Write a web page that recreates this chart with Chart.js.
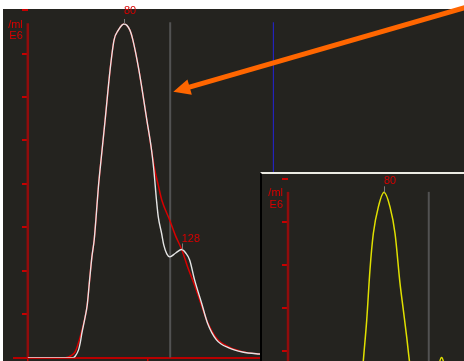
<!DOCTYPE html>
<html><head><meta charset="utf-8">
<script src="https://cdn.jsdelivr.net/npm/chart.js@4.4.1/dist/chart.umd.min.js"></script>
<style>
html,body{margin:0;padding:0;background:#fff;overflow:hidden;width:464px;height:361px;}
#main{position:absolute;left:0;top:0;display:block;}
#insetBox{position:absolute;left:260px;top:172px;width:204px;height:189px;box-sizing:border-box;border-top:2px solid #ecebe3;border-left:2px solid #000;background:#24231f;overflow:hidden;}
#inset{display:block;}
</style></head><body>
<canvas id="main" width="464" height="361"></canvas>
<div id="insetBox"><canvas id="inset" width="202" height="187"></canvas></div>
<script>
// ---- data (fL on x, count /ml E6 on y) ----
const whiteFL  = [0, 37.8, 39.5, 42.2, 43.6, 45.0, 47.7, 49.4, 51.4, 53.3, 55.2, 56.6, 58.7, 61.5, 64.3, 68.4, 71.7, 75.3, 80, 84.9, 87.4, 92.4, 99.0, 102.9, 104.8, 107.0, 108.5, 111.2, 113.1, 115.6, 118.1, 123.0, 128, 131.3, 134.6, 138.7, 144.5, 149.4, 156.9, 167.7, 178.4, 192.5, 220, 250];
const whiteVal = [0, 0, 0.04, 0.18, 0.34, 0.57, 0.94, 1.21, 1.79, 2.32, 2.71, 3.17, 3.93, 4.71, 5.47, 6.62, 7.31, 7.54, 7.68, 7.54, 7.31, 6.62, 5.47, 4.78, 4.32, 3.63, 3.24, 2.87, 2.59, 2.39, 2.32, 2.41, 2.49, 2.41, 2.25, 1.79, 1.26, 0.80, 0.41, 0.22, 0.13, 0.085, 0.04, 0.01];
const redFL  = [0, 31.2, 36.7, 39.5, 43.6, 47.7, 49.4, 51.4, 53.3, 55.2, 56.6, 58.7, 61.5, 64.3, 68.4, 71.7, 75.3, 80, 84.9, 87.4, 92.4, 99.0, 102.9, 105.6, 108.5, 111.4, 118.1, 122.8, 128, 133.0, 138.7, 144.5, 149.4, 156.9, 167.7, 178.4, 192.5, 220, 250];
const redVal = [0, 0, 0.06, 0.14, 0.48, 0.94, 1.21, 1.79, 2.32, 2.71, 3.17, 3.93, 4.71, 5.47, 6.62, 7.31, 7.54, 7.68, 7.54, 7.31, 6.62, 5.47, 4.78, 4.32, 3.97, 3.63, 3.16, 2.81, 2.49, 2.08, 1.67, 1.20, 0.82, 0.45, 0.24, 0.14, 0.085, 0.04, 0.01];
const yellowFL  = [50, 60, 63.3, 65.6, 68.3, 71.1, 75.3, 80, 85.0, 89.2, 93.3, 96.1, 98.9, 101.1, 104, 110, 117, 123, 126, 128, 130, 133, 140];
const yellowVal = [0.5, 2.85, 3.94, 4.71, 5.88, 6.73, 7.35, 7.69, 7.35, 6.73, 5.58, 4.95, 4.32, 3.78, 3.2, 2.4, 2.2, 3.0, 3.68, 3.84, 3.68, 3.0, 2.3];
const mainXTicks = [0, 100, 200, 300];
const mainYTicks = [1, 2, 3, 4, 5, 6, 7, 8];
const insetYTicks = [4, 5, 6, 7, 8];
const mainPeakFL = [80, 128];
const mainPeakVal = [7.68, 2.49];
const mainPeakText = ['80', '128'];
const insetPeakFL = [80];
const insetPeakVal = [7.69];
const insetPeakText = ['80'];
const gateFL = [118.4];
const insetGateFL = [117.3];
const blueFL = [204.2];
const markerTop = 7.72;
const axisTop = 7.70;
const unitLabels = ['/ml', 'E6'];
const arrowFL = [367.7, 121.0];
const arrowVal = [8.09, 6.12];

const BG = '#24231f';
const TEXT = '#d80000';
const pts = (xs, ys) => xs.map((x, i) => ({x: x, y: ys[i]}));
const vline = (x, y0, y1) => [{x: x, y: y0}, {x: x, y: y1}];

function makeAnnot(cfg) {
  return {
    id: 'annot',
    beforeDraw(chart) {
      const c = chart.ctx; c.save(); c.fillStyle = BG; c.fillRect(0, 0, chart.width, chart.height); c.restore();
    },
    afterDraw(chart) {
      const c = chart.ctx, xs = chart.scales.x, ys = chart.scales.y;
      c.save();
      if (cfg.main) {
        c.fillStyle = '#ffffff';
        c.fillRect(0, 0, chart.width, 9);
        c.fillRect(0, 0, 3, chart.height);
      }
      c.font = '11px "Liberation Sans", Arial, sans-serif';
      cfg.peakFL.forEach((f, i) => {
        const px = xs.getPixelForValue(f), py = ys.getPixelForValue(cfg.peakVal[i]);
        const lx = Math.round(px) + 0.5;
        c.strokeStyle = '#7c7c7c'; c.lineWidth = 1;
        c.beginPath(); c.moveTo(lx, py); c.lineTo(lx, py - cfg.tickLen[i]); c.stroke();
        c.fillStyle = TEXT; c.textAlign = 'left'; c.textBaseline = 'alphabetic';
        c.fillText(cfg.peakText[i], px, py - cfg.labelGap[i]);
      });
      const ax = xs.getPixelForValue(0), top = ys.getPixelForValue(axisTop);
      c.fillStyle = TEXT; c.textAlign = 'right'; c.textBaseline = 'alphabetic';
      c.fillText(unitLabels[0], ax - 5, top + 4.5);
      c.fillText(unitLabels[1], ax - 5, top + 16);
      if (cfg.main) {
        const sx = xs.getPixelForValue(arrowFL[0]), sy = ys.getPixelForValue(arrowVal[0]);
        const tx = xs.getPixelForValue(arrowFL[1]), ty = ys.getPixelForValue(arrowVal[1]);
        const dx = tx - sx, dy = ty - sy, L = Math.hypot(dx, dy), ux = dx / L, uy = dy / L;
        const hl = 17, hw = 8;
        const bx = tx - ux * hl, by = ty - uy * hl;
        c.strokeStyle = '#ff6600'; c.fillStyle = '#ff6600'; c.lineWidth = 5; c.lineCap = 'butt';
        c.beginPath(); c.moveTo(sx, sy); c.lineTo(bx + ux * 2, by + uy * 2); c.stroke();
        c.beginPath(); c.moveTo(tx, ty); c.lineTo(bx - uy * hw, by + ux * hw); c.lineTo(bx + uy * hw, by - ux * hw); c.closePath(); c.fill();
      }
      c.restore();
    }
  };
}

const lineDs = (data, color, width, smooth) => ({
  data: data, borderColor: color, borderWidth: width, pointRadius: 0, fill: false,
  tension: 0, cubicInterpolationMode: smooth ? 'monotone' : 'default'
});

new Chart(document.getElementById('main'), {
  type: 'line',
  data: { datasets: [
    lineDs(pts(whiteFL, whiteVal), '#e4e4e4', 1.4, true),
    lineDs(pts(redFL, redVal), '#d80000', 1.5, true),
    lineDs(vline(gateFL[0], 0, markerTop), '#525252', 2, false),
    lineDs(vline(blueFL[0], 0, markerTop), '#2424d8', 1, false),
    lineDs(vline(0, 0, axisTop), '#900c0c', 2.5, false)
  ]},
  options: {
    responsive: false, animation: false, devicePixelRatio: 1,
    layout: { padding: { left: 14, top: 0, right: 0, bottom: 3.3 } },
    plugins: { legend: { display: false }, tooltip: { enabled: false } },
    scales: {
      x: { type: 'linear', min: -11.48, max: 362.74, position: { y: 0 },
           afterBuildTicks: s => { s.ticks = mainXTicks.map(v => ({value: v})); },
           ticks: { display: false },
           grid: { drawOnChartArea: false, drawTicks: true, tickLength: 4, color: '#c80000', lineWidth: 1.5 },
           border: { display: true, color: '#b80000', width: 2 } },
      y: { type: 'linear', min: 0, max: 8.2325, position: { x: 0 },
           afterBuildTicks: s => { s.ticks = mainYTicks.map(v => ({value: v})); },
           ticks: { display: false },
           grid: { drawOnChartArea: false, drawTicks: true, tickLength: 6, color: '#c80000', lineWidth: 2 },
           border: { display: false } }
    }
  },
  plugins: [makeAnnot({ main: true, peakFL: mainPeakFL, peakVal: mainPeakVal, peakText: mainPeakText, tickLen: [5, 6], labelGap: [10, 8] })]
});

new Chart(document.getElementById('inset'), {
  type: 'line',
  data: { datasets: [
    lineDs(pts(yellowFL, yellowVal), '#e0e000', 1.5, true),
    lineDs(vline(insetGateFL[0], 3, axisTop), '#525252', 2, false),
    lineDs(vline(0, 3, axisTop), '#900c0c', 2.5, false)
  ]},
  options: {
    responsive: false, animation: false, devicePixelRatio: 1,
    layout: { padding: 0 },
    plugins: { legend: { display: false }, tooltip: { enabled: false } },
    scales: {
      x: { type: 'linear', min: -21.67, max: 146.67, display: false },
      y: { type: 'linear', min: 3.7576, max: 8.1166, position: { x: 0 },
           afterBuildTicks: s => { s.ticks = insetYTicks.map(v => ({value: v})); },
           ticks: { display: false },
           grid: { drawOnChartArea: false, drawTicks: true, tickLength: 6, color: '#c80000', lineWidth: 2 },
           border: { display: false } }
    }
  },
  plugins: [makeAnnot({ main: false, peakFL: insetPeakFL, peakVal: insetPeakVal, peakText: insetPeakText, tickLen: [6], labelGap: [8] })]
});
</script></body></html>
